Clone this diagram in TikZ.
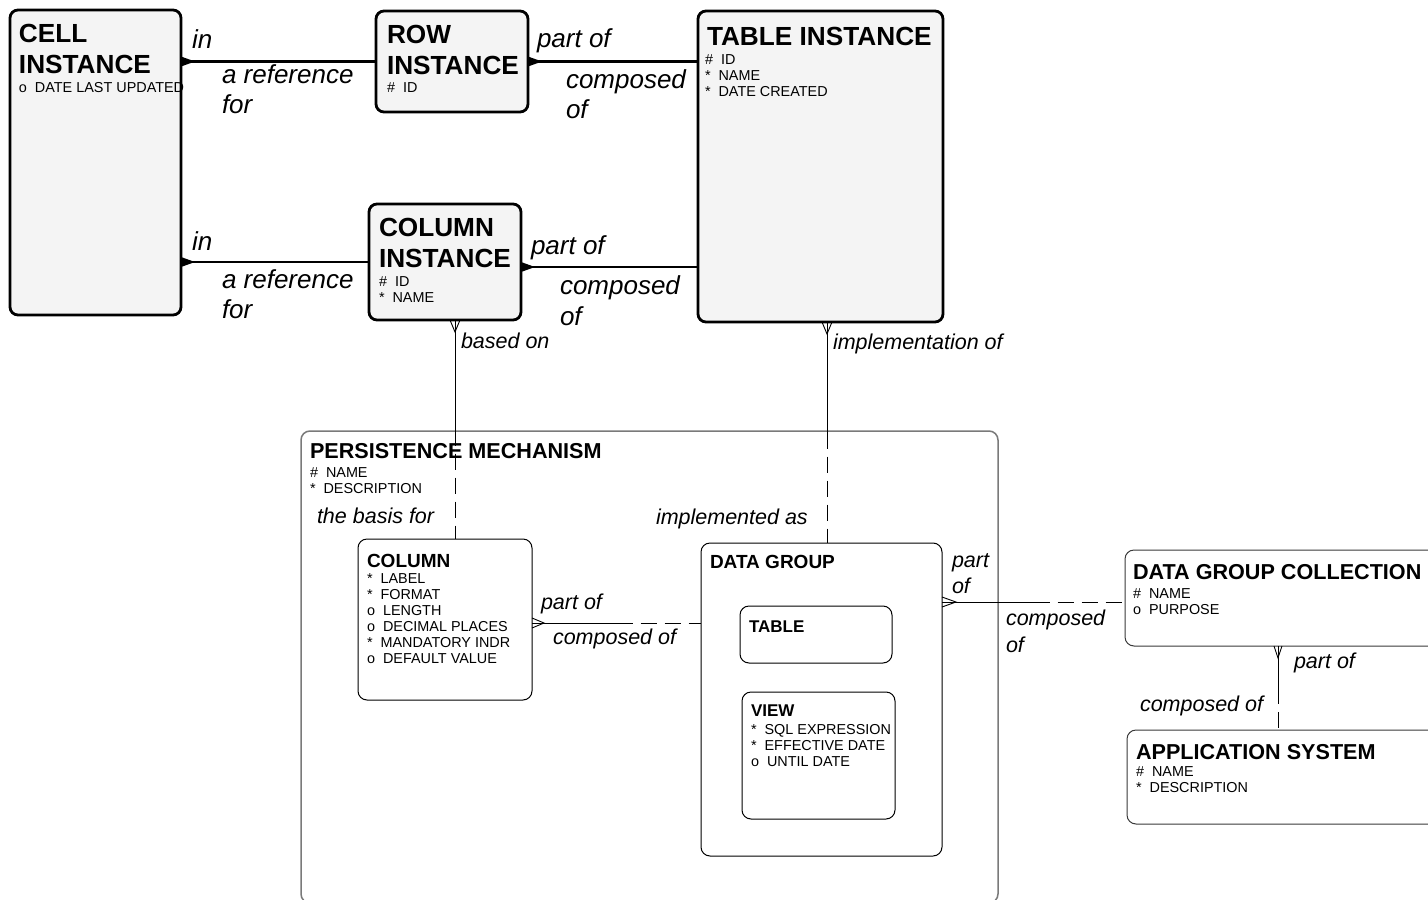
\documentclass[tikz,border=0pt]{standalone}
\usepackage{fontspec}
\setmainfont{Liberation Sans}
\usetikzlibrary{calc}
\definecolor{boxfill}{HTML}{F4F4F4}
\definecolor{pmgray}{HTML}{7A7A7A}
\definecolor{dgray}{HTML}{3A3A3A}
\begin{document}
\begin{tikzpicture}[x=1pt,y=-1pt,
  every node/.style={inner sep=0pt, outer sep=0pt},
  thickbox/.style={draw=black, line width=2.8pt, fill=boxfill, rounded corners=8pt, anchor=north west},
  thinbox/.style={draw=black, line width=1pt, fill=white, rounded corners=9pt, anchor=north west},
  greybox/.style={draw=dgray, line width=1pt, fill=white, rounded corners=9pt, anchor=north west},
  pmbox/.style={draw=pmgray, line width=1.5pt, fill=white, rounded corners=9pt, anchor=north west},
  thickline/.style={line width=2.8pt},
  thinline/.style={line width=0.9pt},
  dashpat/.style={line width=0.9pt, dash pattern=on 16pt off 8pt},
  ttlA/.style={anchor=base west, font=\fontsize{26.2}{30}\selectfont\bfseries},
  ttlB/.style={anchor=base west, font=\fontsize{21.6}{25}\selectfont\bfseries},
  ttlC/.style={anchor=base west, font=\fontsize{19}{23}\selectfont\bfseries},
  ttlD/.style={anchor=base west, font=\fontsize{17}{20}\selectfont\bfseries},
  attr/.style={anchor=base west, font=\fontsize{14.4}{16}\selectfont},
  relA/.style={anchor=base west, font=\fontsize{26}{30}\selectfont\itshape},
  relB/.style={anchor=base west, font=\fontsize{21.5}{26}\selectfont\itshape},
]
\useasboundingbox (0,0) rectangle (1428,900);
\fill[white] (0,0) rectangle (1428,900);

% ---------- boxes ----------
\node[pmbox, minimum width=697pt, minimum height=472pt] (pm) at (301,431) {};
\node[thickbox, minimum width=171pt, minimum height=305pt] (cell) at (10,10) {};
\node[thickbox, minimum width=152pt, minimum height=101pt] (row) at (376,11) {};
\node[thickbox, minimum width=245pt, minimum height=311pt] (table) at (698,11) {};
\node[thickbox, minimum width=152pt, minimum height=116pt] (colinst) at (369,204) {};
\node[thinbox, minimum width=174pt, minimum height=161pt] (column) at (358,539) {};
\node[thinbox, minimum width=241pt, minimum height=313pt] (dg) at (701,543) {};
\node[thinbox, minimum width=152pt, minimum height=57pt] (tbl) at (740,606) {};
\node[thinbox, minimum width=153pt, minimum height=127pt] (view) at (742,692) {};
\node[greybox, minimum width=340pt, minimum height=96pt] (dgc) at (1125,550) {};
\node[greybox, minimum width=340pt, minimum height=94pt] (as) at (1127,730) {};

% ---------- thick connectors ----------
\coordinate (c1) at (cell.east |- row.west);
\draw[thickline] (c1) -- (row.west);
\fill (c1) ++(0,-5) -- ++(14,5) -- ++(-14,5) -- cycle;

\coordinate (c2) at (row.east);
\draw[thickline] (c2) -- (c2 -| table.west);
\fill (c2) ++(0,-5) -- ++(14,5) -- ++(-14,5) -- cycle;

\coordinate (c3) at (colinst.west -| cell.east);
\draw[thickline] (c3) -- (colinst.west);
\fill (c3) ++(0,-5) -- ++(14,5) -- ++(-14,5) -- cycle;

\coordinate (c4) at ($(colinst.east)+(0,5)$);
\draw[thickline] (c4) -- (c4 -| table.west);
\fill (c4) ++(0,-5) -- ++(14,5) -- ++(-14,5) -- cycle;

% ---------- thin connectors ----------
\coordinate (s5) at ($(colinst.south)+(10,0)$);
\coordinate (t5) at (s5 |- column.north);
\coordinate (m5) at ($(s5)!0.5!(t5)$);
\draw[thinline] (s5) -- (m5);
\draw[dashpat] (m5) -- (t5);
\draw[thinline] (s5) ++(-5,0) -- ++(5,12) -- ++(5,-12);

\coordinate (s6) at ($(table.south)+(6.5,0)$);
\coordinate (t6) at (s6 |- dg.north);
\coordinate (m6) at ($(s6)!0.5!(t6)$);
\draw[thinline] (s6) -- (m6);
\draw[dashpat] (m6) -- (t6);
\draw[thinline] (s6) ++(-5,0) -- ++(5,12) -- ++(5,-12);

\coordinate (s7) at ($(column.east)+(0,3.5)$);
\coordinate (t7) at (s7 -| dg.west);
\coordinate (m7) at ($(s7)!0.5!(t7)$);
\draw[thinline] (s7) -- (m7);
\draw[dashpat] (m7) -- (t7);
\draw[thinline] (s7) ++(0,-5) -- ++(12,5) -- ++(-12,5);

\coordinate (s8) at ($(dg.north east)+(0,59)$);
\coordinate (t8) at (s8 -| dgc.west);
\coordinate (m8) at ($(s8)!0.5!(t8)$);
\draw[thinline] (s8) -- (m8);
\draw[dashpat] (m8) -- (t8);
\draw[thinline] (s8) ++(0,-5) -- ++(14,5) -- ++(-14,5);

\coordinate (s9) at ($(dgc.south west)+(153,0)$);
\coordinate (t9) at (s9 |- as.north);
\coordinate (m9) at ($(s9)!0.5!(t9)$);
\draw[thinline] (s9) -- (m9);
\draw[dashpat] (m9) -- (t9);
\draw[thinline] (s9) ++(-4,0) -- ++(4,12) -- ++(4,-12);

% ---------- entity texts ----------
\node[ttlA] (cellT1) at (19,42) {CELL};
\node[ttlA] (cellT2) at (19,73) {INSTANCE};
\node[attr] (cellA1) at (19,92) {o~~DATE LAST UPDATED};

\node[ttlA] (rowT1) at (387,43) {ROW};
\node[ttlA] (rowT2) at (387,74) {INSTANCE};
\node[attr] (rowA1) at (387,92) {\#~~ID};

\node[ttlA] (tabT1) at (707,45) {TABLE INSTANCE};
\node[attr] (tabA1) at (705,64) {\#~~ID};
\node[attr] (tabA2) at (705,80) {*~~NAME};
\node[attr] (tabA3) at (705,96) {*~~DATE CREATED};

\node[ttlA] (ciT1) at (379,236) {COLUMN};
\node[ttlA] (ciT2) at (379,267) {INSTANCE};
\node[attr] (ciA1) at (379,286) {\#~~ID};
\node[attr] (ciA2) at (379,302) {*~~NAME};

\node[ttlB] (pmT) at (310,458) {PERSISTENCE MECHANISM};
\node[attr] (pmA1) at (310,477) {\#~~NAME};
\node[attr] (pmA2) at (310,493) {*~~DESCRIPTION};

\node[ttlC] (colT) at (367,567) {COLUMN};
\node[attr] (colA1) at (367,583) {*~~LABEL};
\node[attr] (colA2) at (367,599) {*~~FORMAT};
\node[attr] (colA3) at (367,615) {o~~LENGTH};
\node[attr] (colA4) at (367,631) {o~~DECIMAL PLACES};
\node[attr] (colA5) at (367,647) {*~~MANDATORY INDR};
\node[attr] (colA6) at (367,663) {o~~DEFAULT VALUE};

\node[ttlC] (dgT) at (710,568) {DATA GROUP};
\node[ttlD] (tblT) at (749,632) {TABLE};
\node[ttlD] (viewT) at (751,716) {VIEW};
\node[attr] (viewA1) at (751,734) {*~~SQL EXPRESSION};
\node[attr] (viewA2) at (751,750) {*~~EFFECTIVE DATE};
\node[attr] (viewA3) at (751,766) {o~~UNTIL DATE};

\node[ttlB] (dgcT) at (1133,579) {DATA GROUP COLLECTION};
\node[attr] (dgcA1) at (1133,598) {\#~~NAME};
\node[attr] (dgcA2) at (1133,614) {o~~PURPOSE};

\node[ttlB] (asT) at (1136,759) {APPLICATION SYSTEM};
\node[attr] (asA1) at (1136,776) {\#~~NAME};
\node[attr] (asA2) at (1136,792) {*~~DESCRIPTION};

% ---------- relationship labels ----------
\node[relA] (l1) at (192,48) {in};
\node[relA] (l2) at (222,83) {a reference};
\node[relA] (l3) at (222,113) {for};
\node[relA] (l4) at (537,47) {part of};
\node[relA] (l5) at (566,88) {composed};
\node[relA] (l6) at (566,118) {of};
\node[relA] (l7) at (192,250) {in};
\node[relA] (l8) at (222,288) {a reference};
\node[relA] (l9) at (222,318) {for};
\node[relA] (l10) at (531,254) {part of};
\node[relA] (l11) at (560,294) {composed};
\node[relA] (l12) at (560,325) {of};

\node[relB] (l13) at (461,348) {based on};
\node[relB] (l14) at (317,523) {the basis for};
\node[relB] (l15) at (833,349) {implementation of};
\node[relB] (l16) at (656,524) {implemented as};
\node[relB] (l17) at (541,609) {part of};
\node[relB] (l18) at (553,644) {composed of};
\node[relB] (l19) at (952,567) {part};
\node[relB] (l20) at (952,593) {of};
\node[relB] (l21) at (1006,625) {composed};
\node[relB] (l22) at (1006,652) {of};
\node[relB] (l23) at (1294,668) {part of};
\node[relB] (l24) at (1140,711) {composed of};
\end{tikzpicture}
\end{document}
